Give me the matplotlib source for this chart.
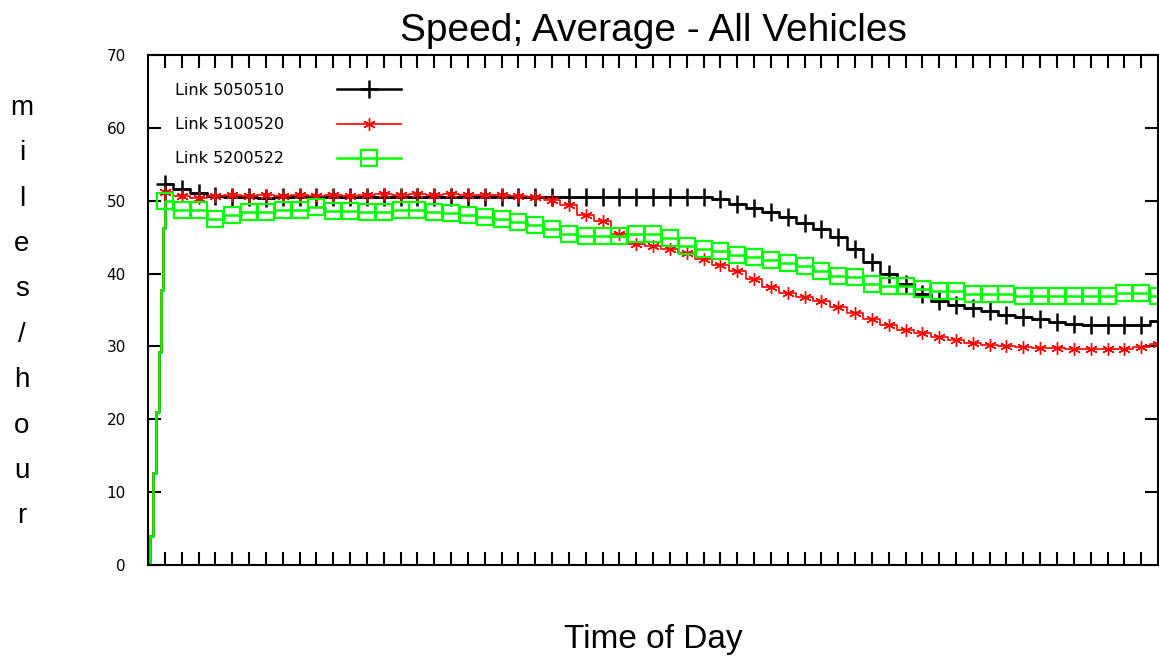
import matplotlib
matplotlib.use("Agg")
import matplotlib.pyplot as plt
from matplotlib.lines import Line2D

# ---------------- data ----------------
title = "Speed; Average - All Vehicles"
x_label = "Time of Day"
y_label = "miles/hour"
series_names = ["Link 5050510", "Link 5100520", "Link 5200522"]
y_ticks = [0, 10, 20, 30, 40, 50, 60, 70]

# initial ramp (fine time steps at the start of the run)
ramp_x = [0.0, 0.2, 0.4, 0.58, 0.72, 0.87, 0.97]
ramp_5050510 = [0, 4, 12.6, 21, 29.3, 37.7, 46.2]
ramp_5100520 = [0, 4, 12.6, 21, 29.3, 37.7, 46.2]
ramp_5200522 = [0, 4, 12.6, 21, 29.3, 37.7, 46.2]

time_idx = list(range(1, 61))

link_5050510 = [52.3, 51.6, 51.0, 50.7, 50.5, 50.5, 50.4, 50.5, 50.5, 50.5,
                50.5, 50.5, 50.5, 50.5, 50.5, 50.5, 50.5, 50.5, 50.5, 50.5,
                50.5, 50.5, 50.5, 50.5, 50.5, 50.5, 50.5, 50.5, 50.5, 50.5,
                50.5, 50.5, 50.5, 50.2, 49.6, 49.0, 48.4, 47.7, 47.0, 46.1,
                45.0, 43.4, 41.6, 40.0, 38.6, 37.2, 36.2, 35.7, 35.3, 34.8,
                34.3, 34.0, 33.7, 33.4, 33.1, 33.0, 33.0, 33.0, 33.0, 33.5]

link_5100520 = [51.2, 50.6, 50.4, 50.6, 50.8, 50.6, 50.8, 50.7, 50.8, 50.7,
                50.8, 50.7, 50.8, 50.9, 50.8, 50.9, 50.8, 50.9, 50.8, 50.8,
                50.8, 50.7, 50.5, 50.1, 49.4, 48.0, 47.2, 45.5, 44.0, 43.8,
                43.4, 42.8, 42.0, 41.2, 40.4, 39.2, 38.1, 37.4, 36.8, 36.2,
                35.4, 34.6, 33.7, 32.9, 32.3, 31.8, 31.3, 30.9, 30.5, 30.2,
                30.0, 29.9, 29.8, 29.8, 29.7, 29.6, 29.6, 29.7, 29.9, 30.3]

link_5200522 = [50.0, 48.7, 48.7, 47.5, 48.1, 48.4, 48.4, 48.7, 48.7, 49.1,
                48.6, 48.6, 48.4, 48.4, 48.7, 48.7, 48.4, 48.3, 48.0, 47.8,
                47.5, 47.1, 46.6, 46.1, 45.4, 45.2, 45.2, 45.2, 45.4, 45.4,
                44.9, 43.8, 43.4, 43.1, 42.5, 42.3, 41.8, 41.5, 41.1, 40.4,
                39.7, 39.5, 38.6, 38.3, 38.3, 37.9, 37.6, 37.6, 37.2, 37.2,
                37.2, 36.9, 36.9, 36.9, 36.9, 36.9, 36.9, 37.4, 37.4, 36.9]

# ---------------- figure ----------------
W, H = 1159, 664
fig = plt.figure(figsize=(W / 100, H / 100), dpi=100)
fig.patch.set_facecolor("white")
ax_l, ax_r, ax_t, ax_b = 148, 1158, 55, 565
ax = fig.add_axes([ax_l / W, 1 - ax_b / H, (ax_r - ax_l) / W, (ax_b - ax_t) / H])

styles = [
    dict(color="#000000", lw=1.8, marker="+", ms=12.5, mew=1.8, mfc="none"),
    dict(color="#ff0000", lw=1.2, marker=(6, 2, 0), ms=9, mew=1.0, mfc="none"),
    dict(color="#00ff00", lw=1.8, marker="s", ms=11.5, mew=1.6, mfc="none"),
]
ramps = [ramp_5050510, ramp_5100520, ramp_5200522]
series = [link_5050510, link_5100520, link_5200522]

handles = []
for name, ramp, vals, st in zip(series_names, ramps, series, styles):
    xs = list(ramp_x) + list(time_idx)
    ys = list(ramp) + list(vals)
    ax.plot(xs, ys, drawstyle="steps-mid",
            markevery=list(range(len(ramp_x), len(xs))), **st)
    handles.append(Line2D([], [], label=name, **st))

ax.set_xlim(0, 60)
ax.set_ylim(0, 70)
ax.set_xticks(list(range(1, 60)))
ax.tick_params(axis="x", direction="in", length=9.5, width=1.5,
               top=True, labelbottom=False)
ax.set_yticks(y_ticks)
ax.set_yticklabels([str(v) for v in y_ticks])
ax.tick_params(axis="y", direction="in", length=9.5, width=1.5,
               right=True, labelsize=11, pad=16)
for sp in ax.spines.values():
    sp.set_linewidth(1.5)

ax.set_title(title, fontsize=28, family=["Liberation Sans", "DejaVu Sans"], pad=10)
ax.set_xlabel(x_label, fontsize=24, family=["Liberation Sans", "DejaVu Sans"])
ax.xaxis.set_label_coords(0.5, -0.115)
ax.xaxis.label.set_va("top")

fig.text(22 / W, 1 - 312 / H, "\n".join(list(y_label)), ha="center", va="center",
         fontsize=20, family=["Liberation Sans", "DejaVu Sans"], linespacing=1.97)

leg = ax.legend(handles=handles, loc="upper left", bbox_to_anchor=(0.027, 0.945),
                frameon=False, markerfirst=False, handlelength=4.0,
                handletextpad=3.3, labelspacing=1.2, borderaxespad=0,
                borderpad=0, fontsize=11.5, numpoints=1)

fig.savefig("out.png", dpi=100, facecolor="white")
